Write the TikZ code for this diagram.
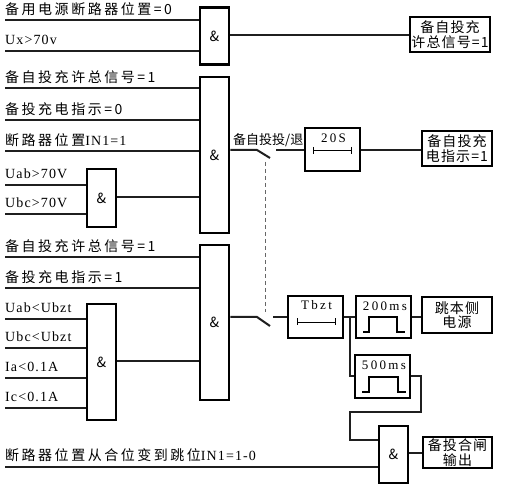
\documentclass[tikz,border=0pt]{standalone}
\usepackage{fontspec}
\newfontfamily\cjk[LetterSpace=18]{Noto Sans CJK SC}
\newfontfamily\cjkb[LetterSpace=8]{Noto Sans CJK SC}
\newfontfamily\lat[LetterSpace=8]{Liberation Serif}
\newfontfamily\latt[LetterSpace=18]{Liberation Serif}
\newfontfamily\amp{Noto Sans CJK SC}
\begin{document}
\begin{tikzpicture}[x=1pt,y=-1pt,
  wire/.style={line width=2pt,draw=black!88},
  gate/.style={draw,line width=2.5pt,minimum width=29pt,inner sep=0pt,font=\amp\fontsize{14}{14}\selectfont},
  obox/.style={draw,line width=2.5pt,inner sep=0pt,align=center,font=\cjkb\fontsize{14}{14.5}\selectfont},
  tbox/.style={draw,line width=2.2pt,minimum width=55pt,minimum height=42pt,inner sep=0pt},
  lbl/.style={anchor=base west,inner sep=0pt,font=\cjk\fontsize{14}{14}\selectfont},
  llbl/.style={anchor=base west,inner sep=0pt,font=\lat\fontsize{14}{14}\selectfont},
  tlbl/.style={inner sep=0pt,font=\latt\fontsize{13}{13}\selectfont}]
\useasboundingbox (0,0) rectangle (507,486);
% gates
\node[gate,minimum height=57pt] (g1) at (214.5,36) {\&};
\node[gate,minimum height=156pt] (g2) at (214.5,155) {\&};
\node[gate,minimum height=58pt] (ga) at (101.5,198) {\&};
\node[gate,minimum height=155pt] (g3) at (214.5,322.5) {\&};
\node[gate,minimum height=116pt] (gb) at (101.5,362) {\&};
\node[gate,minimum height=57pt] (g5) at (393.5,454.5) {\&};
% output boxes
\node[obox,minimum width=80pt,minimum height=35pt] (ob1) at (450,34.5) {备自投充\\许总信号=1};
\node[obox,minimum width=70pt,minimum height=35pt] (ob2) at (457,148.5) {备自投充\\电指示=1};
\node[obox,minimum width=70pt,minimum height=36pt] (ob3) at (457,315) {跳本侧\\电源};
\node[obox,minimum width=69pt,minimum height=31pt] (ob4) at (457.5,452.5) {备投合闸\\输出};
% timer boxes
\node[tbox,minimum height=43pt] (t20) at (332.5,149.5) {};
\node[tbox] (tbz) at (315.5,317) {};
\node[tbox,minimum width=55pt] (t200) at (383.5,317) {};
\node[tbox,minimum height=43pt] (t500) at (382.5,376.5) {};
\node[tlbl] (t20l) at (333.5,138) {20S};
\node[tlbl] (tbzl) at (316.5,305) {Tbzt};
\node[tlbl] (t200l) at (385,306) {200ms};
\node[tlbl] (t500l) at (384,365) {500ms};
% span markers
\draw[line width=0.9pt] (313,147) -- (313,154) (313,150.5) -- (351,150.5) (351,147) -- (351,154);
\draw[line width=0.9pt] (297,318.5) -- (297,325.5) (297,322) -- (335,322) (335,318.5) -- (335,325.5);
% pulses
\draw[line width=1.1pt] (363,332) -- (369,332) -- (369,317) -- (397,317) -- (397,332) -- (405,332);
\draw[line width=1.1pt] (362,392) -- (369,392) -- (369,377) -- (398,377) -- (398,392) -- (406,392);
% input coordinates
\coordinate (i1) at (5,20);
\coordinate (i2) at (5,51);
\coordinate (i3) at (5,88);
\coordinate (i4) at (5,120);
\coordinate (i5) at (5,151);
\coordinate (i6) at (5,185);
\coordinate (i7) at (5,214);
\coordinate (i8) at (5,257);
\coordinate (i9) at (5,288);
\coordinate (i10) at (5,319);
\coordinate (i11) at (5,348);
\coordinate (i12) at (5,378);
\coordinate (i13) at (5,408);
\coordinate (i14) at (5,467);
\foreach \c in {i1,i2,i3,i4,i5,i8,i9} \draw[wire] (\c) -- (\c -| g1.west);
\foreach \c in {i6,i7,i10,i11,i12,i13} \draw[wire] (\c) -- (\c -| ga.west);
\draw[wire] (i14) -- (i14 -| g5.west);
% labels
\node[lbl] (l1) at ([yshift=5pt]i1) {备用电源断路器位置=0};
\node[llbl] (l2) at ([yshift=6pt]i2) {Ux>70v};
\node[lbl] (l3) at ([yshift=5pt]i3) {备自投充许总信号=1};
\node[lbl] (l4) at ([yshift=5pt]i4) {备投充电指示=0};
\node[lbl] (l5) at ([yshift=5pt]i5) {断路器位置{\lat IN1=1}};
\node[llbl] (l6) at ([yshift=6pt]i6) {Uab>70V};
\node[llbl] (l7) at ([yshift=6pt]i7) {Ubc>70V};
\node[lbl] (l8) at ([yshift=5pt]i8) {备自投充许总信号=1};
\node[lbl] (l9) at ([yshift=5pt]i9) {备投充电指示=1};
\node[llbl] (l10) at ([yshift=6pt]i10) {Uab<Ubzt};
\node[llbl] (l11) at ([yshift=6pt]i11) {Ubc<Ubzt};
\node[llbl] (l12) at ([yshift=6pt]i12) {Ia<0.1A};
\node[llbl] (l13) at ([yshift=6pt]i13) {Ic<0.1A};
\node[lbl] (l14) at ([yshift=6pt]i14) {断路器位置从合位变到跳位{\lat IN1=1-0}};
% small gate outputs
\draw[wire] (ga.east |- 0,197) -- (g2.west |- 0,197);
\draw[wire] (gb.east |- 0,361) -- (g3.west |- 0,361);
% gate1 output
\draw[wire] (g1.east |- 0,35) -- (ob1.west |- 0,35);
% switch 1
\coordinate (s1a) at (257,150);
\coordinate (s1b) at (270,158);
\coordinate (s1c) at (276,150);
\draw[wire] (g2.east |- s1a) -- (s1a) -- (s1b);
\draw[wire] (s1c) -- (t20.west |- s1c);
\draw[wire] (t20.east |- s1c) -- (ob2.west |- s1c);
\node[anchor=base west,inner sep=0pt,font=\amp\fontsize{13}{13}\selectfont] (swl) at (233,145) {备自投投/退};
% switch 2
\coordinate (s2a) at (257,317);
\coordinate (s2b) at (270,326);
\coordinate (s2c) at (273,317);
\draw[wire] (g3.east |- s2a) -- (s2a) -- (s2b);
\draw[wire] (s2c) -- (tbz.west |- s2c);
% dashed linkage
\coordinate (d1) at (265,162);
\coordinate (d2) at (265,312);
\draw[line width=1pt,draw=black!60,dash pattern=on 4pt off 3pt] (d1) -- (d2);
% timer chain
\coordinate (br) at (350,317);
\draw[wire] (tbz.east |- br) -- (t200.west |- br);
\draw[wire] (br) |- (t500.west);
\draw[wire] (t200.east |- 0,317) -- (ob3.west |- 0,317);
\coordinate (p1) at (421,376);
\coordinate (p2) at (421,412);
\coordinate (p3) at (350,412);
\coordinate (p4) at (350,440);
\draw[wire] (t500.east |- p1) -- (p1) -- (p2) -- (p3) -- (p4) -- (p4 -| g5.west);
\draw[wire] (g5.east |- 0,453) -- (ob4.west |- 0,453);
\end{tikzpicture}
\end{document}
